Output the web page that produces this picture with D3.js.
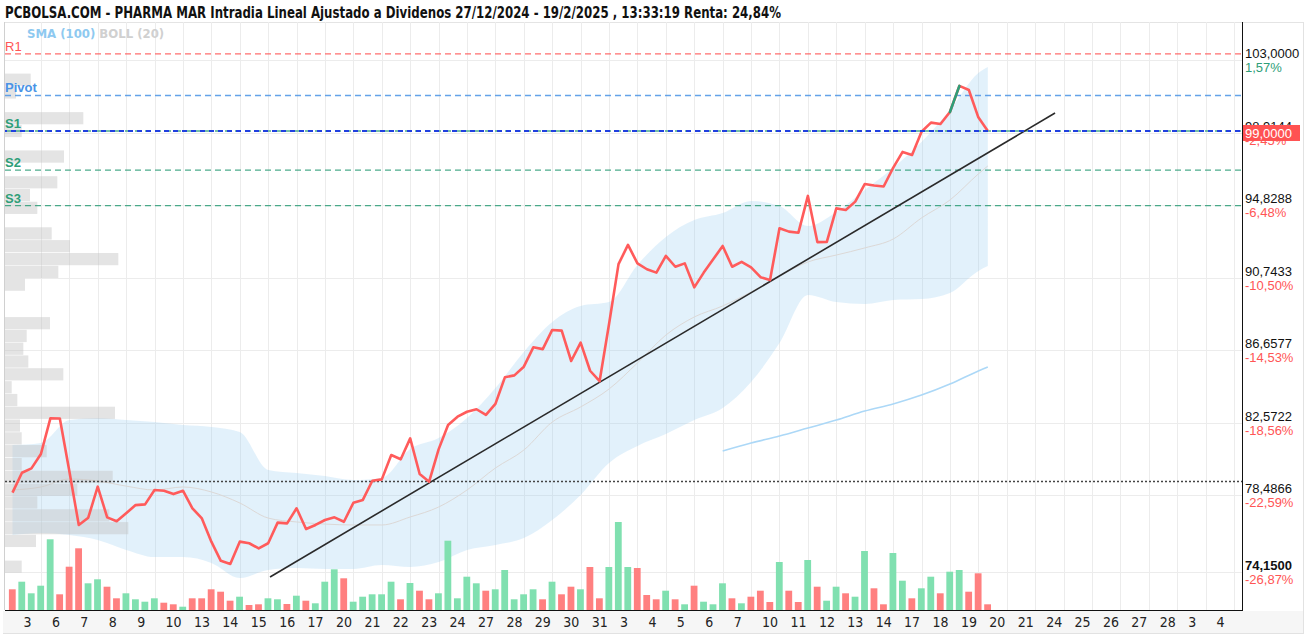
<!DOCTYPE html>
<html>
<head>
<meta charset="utf-8">
<script src="https://cdn.jsdelivr.net/npm/d3@7/dist/d3.min.js"></script>
<style>
body { margin: 0; background: #fff; }
svg { display: block; font-family: "Liberation Sans", Arial, sans-serif; }
</style>
</head>
<body>
<svg id="chart" width="1309" height="638"></svg>
<script>
// sessions shown on the x axis (Jan 3 .. Mar 4)
const dayLabels = ['3','6','7','8','9','10','13','14','15','16','17','20','21','22','23','24','27','28','29','30','31',
  '3','4','5','6','7','10','11','12','13','14','17','18','19','20','21','24','25','26','27','28','3','4'];

// intraday price, 3 points per session
const price = [78.62,79.74,79.99,80.80,82.81,82.80,79.84,76.80,77.21,78.96,77.23,77.01,77.46,77.92,77.96,78.77,78.73,78.54,
  78.73,77.74,77.17,75.86,74.78,74.60,75.86,75.77,75.48,75.77,76.93,76.89,77.74,76.57,76.80,77.08,77.23,76.98,78.05,78.21,
  79.29,79.37,80.74,80.50,81.68,79.67,79.24,81.06,82.43,82.90,83.18,83.32,83.00,83.62,85.12,85.23,85.72,86.81,86.71,87.79,
  87.75,86.04,87.07,85.49,84.90,88.12,91.50,92.58,91.54,91.21,91.02,91.96,91.35,91.54,90.19,91.02,91.77,92.52,91.35,91.63,
  91.32,90.76,90.60,93.52,93.33,93.27,95.34,92.74,92.75,94.64,94.55,95.02,96.01,95.93,95.87,96.92,97.82,97.65,98.96,99.47,
  99.39,100.07,101.54,101.31,99.77,99.00];
const volume = [20.7,28.3,16.7,24.3,70.7,15.7,43.3,61.7,26.7,30.7,23.3,11.7,16.7,10.7,8.3,11.7,7.3,5.7,3.3,11.7,11.7,20.7,
  18.3,9.3,13.3,5,5.7,11.7,10.7,6,14.3,9.3,6.7,28.3,40.7,31.7,8.3,13.3,15.7,15.7,28.3,10.7,27,19.3,10.7,16.7,69.3,11.7,
  33.3,26.7,19.3,20.7,40,10.7,15.7,20.7,10.7,28.3,15.7,23.3,20.7,43,11.7,43,88,43,42,15,10.7,19.3,10.7,5.7,24.3,8.3,5.7,
  26.7,11.7,6.7,13.3,19.3,8,48,19.3,8,50,23.3,9.3,23.3,16.7,13.3,59,21.7,5.7,57,29.3,11.7,21.7,33.3,16.7,38.3,40,18.3,36.7,5.7];
const upGreenIdx = [99, 100]; // highlighted segment of the price line

// Bollinger (20)
const bollIdx = [0,3,6,9,12,15,18,21,24,27,30,33,36,39,42,45,48,51,54,57,60,63,66,69,72,75,78,81,84,87,90,93,96,99,102,103];
const bollUpper = [81.30,81.42,82.71,82.83,82.71,82.60,82.43,82.32,82.04,79.90,79.73,79.56,79.33,79.45,81.08,81.70,82.83,
  84.52,86.55,88.24,89.14,89.36,91.45,93.03,93.98,94.38,95.06,94.77,93.65,94.44,95.68,96.92,98.38,100.18,102.27,102.61];
const bollMid = [78.77,78.94,79.39,79.28,78.99,78.77,78.94,78.66,78.04,77.19,76.97,76.85,76.80,76.80,77.25,77.81,78.77,
  80.01,81.02,82.60,83.45,84.46,85.93,87.50,88.52,89.14,89.93,90.83,91.62,92.01,92.41,92.91,94.10,95.11,96.58,97.03];
const bollLower = [76.23,76.35,76.23,75.95,75.39,74.99,74.99,74.66,73.81,74.26,74.37,74.32,74.32,74.54,74.43,74.71,75.39,
  75.67,76.06,77.08,78.49,80.29,81.25,81.92,82.71,83.39,84.86,87.05,89.76,89.36,89.25,89.48,89.53,89.87,91.11,91.39];

// SMA (100)
const smaIdx = [75,78,81,84,87,90,93,96,99,102,103];
const sma100 = [80.97,81.42,81.81,82.26,82.71,83.22,83.62,84.12,84.74,85.48,85.70];

// trend line
const trendIdx = [27.2, 110.1];
const trendPrice = [73.87, 100.01];

// pivot levels
const pivotNames = ['R1','Pivot','S1','S2','S3'];
const pivotValues = [103.34, 101.00, 99.00, 96.80, 94.79];

// volume at price profile
const profilePrice = [101.89,101.17,99.72,99.00,97.56,96.11,95.39,94.67,93.23,92.51,91.78,91.06,90.34,88.17,87.45,86.73,
  86.01,85.29,84.56,83.84,83.12,82.40,81.68,80.96,80.23,79.51,78.79,78.07,77.34,76.62,75.90,74.45];
const profileVol = [25.7,11,78.3,16.7,59,52.3,25,32.3,46.7,65,113.3,53.3,20,45,21.7,18.3,23.3,58.3,6.7,12.3,110,15,16.7,
  41.7,16.7,107.7,72.3,32.3,104.3,123.3,31,16.7];
const profileStep = 0.7219;

// right axis
const yTicks = [103, 98.9144, 94.8288, 90.7433, 86.6577, 82.5722, 78.4866, 74.15];
const yTickPct = ['1,57%','-2,45%','-6,48%','-10,50%','-14,53%','-18,56%','-22,59%','-26,87%'];
const lastPrice = 99.0;
const startPrice = 79.25;

const titleText = 'PCBOLSA.COM - PHARMA MAR Intradia Lineal Ajustado a Dividenos 27/12/2024 - 19/2/2025 , 13:33:19 Renta: 24,84%';

const plotL = 5, plotR = 1242, plotT = 22, plotB = 610;
const red = '#ff5b5b', green = '#2e9e78';
const es = d3.formatLocale({decimal: ',', thousands: '.', grouping: [3], currency: ['', '€']});
const f4 = es.format('.4f');

const svg = d3.select('#chart');
const x = d3.scaleLinear().domain([0, dayLabels.length * 3]).range([12.5, 1234]);
const y = d3.scaleLinear().domain([74.15, 103]).range([572, 60]);
const yVol = d3.scaleLinear().domain([0, 90]).range([plotB, plotB - 90]);
const xProf = d3.scaleLinear().domain([0, 130]).range([plotL, plotL + 130]);

svg.append('defs').append('clipPath').attr('id', 'plot')
  .append('rect').attr('x', plotL).attr('y', plotT).attr('width', plotR - plotL).attr('height', plotB - plotT);

// frame
svg.append('rect').attr('x', 3).attr('y', plotB + 1).attr('width', 1300).attr('height', 22).attr('fill', '#f6f6f6');
svg.append('line').attr('x1', 3).attr('x2', 1303).attr('y1', 633.5).attr('y2', 633.5).attr('stroke', '#e2e2e2');
svg.append('line').attr('x1', 1303.5).attr('x2', 1303.5).attr('y1', plotT).attr('y2', 634).attr('stroke', '#e2e2e2');
svg.append('line').attr('x1', plotL).attr('x2', 1303).attr('y1', plotT + 0.5).attr('y2', plotT + 0.5).attr('stroke', '#e4e4e4');
svg.append('line').attr('x1', plotL - 0.5).attr('x2', plotL - 0.5).attr('y1', plotT).attr('y2', plotB).attr('stroke', '#d0d0d0');

svg.append('text').attr('x', 5).attr('y', 18).attr('font-family', '"Liberation Sans Narrow", "DejaVu Sans Condensed", sans-serif')
  .attr('font-weight', 'bold').attr('font-size', 15).attr('fill', '#111')
  .attr('textLength', 776).attr('lengthAdjust', 'spacingAndGlyphs').text(titleText);

const plot = svg.append('g').attr('clip-path', 'url(#plot)');

// grid
plot.selectAll('line.vg').data(d3.range(1, dayLabels.length + 1)).enter().append('line')
  .attr('x1', d => Math.round(x(d * 3)) + 0.5).attr('x2', d => Math.round(x(d * 3)) + 0.5)
  .attr('y1', plotT).attr('y2', plotB).attr('stroke', '#ececec');
plot.selectAll('line.hg').data(yTicks).enter().append('line')
  .attr('x1', plotL).attr('x2', plotR).attr('y1', d => Math.round(y(d)) + 0.5).attr('y2', d => Math.round(y(d)) + 0.5)
  .attr('stroke', '#ececec');

// bollinger band
const boll = bollIdx.map((k, i) => ({k, up: bollUpper[i], mid: bollMid[i], lo: bollLower[i]}));
plot.append('path').datum(boll)
  .attr('d', d3.area().x(d => x(d.k)).y0(d => y(d.lo)).y1(d => y(d.up)).curve(d3.curveMonotoneX))
  .attr('fill', '#8ecaf0').attr('fill-opacity', 0.26);
plot.append('path').datum(boll)
  .attr('d', d3.line().x(d => x(d.k)).y(d => y(d.mid)).curve(d3.curveMonotoneX))
  .attr('fill', 'none').attr('stroke', '#dcd8d6').attr('stroke-width', 1);

// volume profile
plot.selectAll('rect.prof').data(profilePrice).enter().append('rect')
  .attr('x', xProf(0)).attr('y', d => y(d + profileStep / 2) + 0.3)
  .attr('width', (d, i) => xProf(profileVol[i]) - xProf(0))
  .attr('height', d => y(d - profileStep / 2) - y(d + profileStep / 2) - 0.6)
  .attr('fill', '#c4c4c4').attr('fill-opacity', 0.45);

// sma 100
plot.append('path').datum(smaIdx.map((k, i) => [k, sma100[i]]))
  .attr('d', d3.line().x(d => x(d[0])).y(d => y(d[1])).curve(d3.curveMonotoneX))
  .attr('fill', 'none').attr('stroke', '#acd8f7').attr('stroke-width', 1.6);

// pivots
const pivotColor = ['#ff5555', '#4a93e6', green, green, green];
pivotValues.forEach((v, i) => {
  plot.append('line').attr('x1', plotL).attr('x2', plotR).attr('y1', y(v)).attr('y2', y(v))
    .attr('stroke', pivotColor[i]).attr('stroke-width', 1.3).attr('stroke-dasharray', '6,4').attr('opacity', 0.85);
  svg.append('text').attr('x', 5).attr('y', y(v) - 3).attr('font-size', 13)
    .attr('font-weight', i === 0 ? 'normal' : 'bold').attr('fill', pivotColor[i]).text(pivotNames[i]);
});

// start price reference
plot.append('line').attr('x1', plotL).attr('x2', plotR).attr('y1', y(startPrice)).attr('y2', y(startPrice))
  .attr('stroke', '#444').attr('stroke-width', 1.3).attr('stroke-dasharray', '2,2');

// volume bars
plot.selectAll('rect.vol').data(volume).enter().append('rect')
  .attr('x', (d, i) => x(i) - 3.6).attr('width', 6.8)
  .attr('y', d => yVol(d)).attr('height', d => yVol(0) - yVol(d))
  .attr('fill', (d, i) => price[i] > (i ? price[i - 1] : Infinity) ? '#80e0b0' : '#ff8080');

// trend line
plot.append('line').attr('x1', x(trendIdx[0])).attr('y1', y(trendPrice[0]))
  .attr('x2', x(trendIdx[1])).attr('y2', y(trendPrice[1])).attr('stroke', '#2a2a2a').attr('stroke-width', 1.6);

// price line
plot.append('path').datum(price)
  .attr('d', d3.line().x((d, i) => x(i)).y(d => y(d)))
  .attr('fill', 'none').attr('stroke', red).attr('stroke-width', 2.6).attr('stroke-linejoin', 'round');
plot.append('path').datum(upGreenIdx)
  .attr('d', d3.line().x(k => x(k)).y(k => y(price[k])))
  .attr('fill', 'none').attr('stroke', green).attr('stroke-width', 2.6).attr('stroke-linecap', 'round');

// last price line
plot.append('line').attr('x1', plotL).attr('x2', plotR).attr('y1', y(lastPrice)).attr('y2', y(lastPrice))
  .attr('stroke', '#2040e0').attr('stroke-width', 2).attr('stroke-dasharray', '5,4').attr('stroke-dashoffset', 3);

// axes
svg.append('line').attr('x1', plotR + 0.5).attr('x2', plotR + 0.5).attr('y1', plotT).attr('y2', plotB + 1).attr('stroke', '#111');
svg.append('line').attr('x1', plotL).attr('x2', plotR + 1).attr('y1', plotB + 0.5).attr('y2', plotB + 0.5).attr('stroke', '#111');

const yl = svg.append('g').attr('font-size', 13);
yTicks.forEach((v, i) => {
  const yy = Math.round(y(v));
  yl.append('text').attr('x', plotR + 3).attr('y', yy - 2).attr('fill', '#111')
    .attr('font-weight', i === yTicks.length - 1 ? 'bold' : 'normal').text(f4(v));
  yl.append('text').attr('x', plotR + 3).attr('y', yy + 12)
    .attr('fill', yTickPct[i][0] === '-' ? '#ff5555' : green).text(yTickPct[i]);
});
svg.append('rect').attr('x', plotR + 1).attr('y', y(lastPrice) - 6).attr('width', 57).attr('height', 16).attr('fill', '#ff5252');
svg.append('text').attr('x', plotR + 3).attr('y', y(lastPrice) + 7).attr('font-size', 13).attr('fill', '#fff').text(f4(lastPrice));

// x labels
svg.append('g').attr('font-family', '"Liberation Sans Narrow", "DejaVu Sans Condensed", sans-serif').attr('font-size', 14)
  .selectAll('text').data(dayLabels).enter().append('text')
  .attr('x', (d, i) => x(i * 3) + 11).attr('y', 627).attr('fill', '#222').text(d => d);

// legend
const lg = svg.append('text').attr('x', 27).attr('y', 38).attr('font-size', 13)
  .attr('font-family', '"Liberation Sans Narrow", "DejaVu Sans Condensed", sans-serif').attr('font-weight', 'bold');
lg.append('tspan').attr('fill', '#8ec9f0').text('SMA (100) ');
lg.append('tspan').attr('fill', '#d0d0d0').text('BOLL (20)');
</script>
</body>
</html>
